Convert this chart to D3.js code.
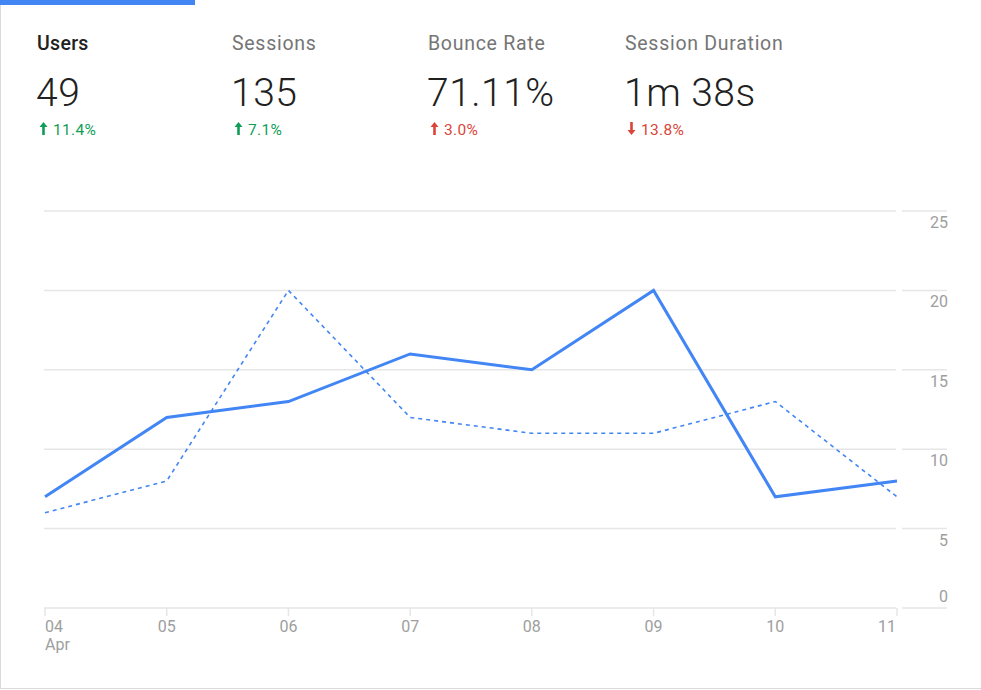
<!DOCTYPE html>
<html>
<head>
<meta charset="utf-8">
<script src="https://cdn.jsdelivr.net/npm/d3@7"></script>
<style>
  html, body { margin: 0; padding: 0; background: #fff; }
  svg { display: block; font-family: Roboto, "Noto Sans", sans-serif; }
</style>
</head>
<body>
<svg id="chart" width="981" height="690"></svg>
<script>
// ---- data ----
const days = ["04", "05", "06", "07", "08", "09", "10", "11"];
const monthLabel = "Apr";
const usersCurrent = [7, 12, 13, 16, 15, 20, 7, 8];
const usersPrevious = [6, 8, 20, 12, 11, 11, 13, 7];
const yTicks = [0, 5, 10, 15, 20, 25];

const metricNames = ["Users", "Sessions", "Bounce Rate", "Session Duration"];
const metricValues = ["49", "135", "71.11%", "1m 38s"];
const metricChanges = ["11.4%", "7.1%", "3.0%", "13.8%"];
const metricDirections = ["up", "up", "up", "down"];
const metricGood = [true, true, false, false];

// ---- layout ----
const svg = d3.select("#chart");
const W = 981, H = 690;
const plot = { left: 45, right: 897, top: 211, bottom: 608 };
const blue = "#4285f4";

// card borders
svg.append("line").attr("x1", 0.5).attr("x2", 0.5).attr("y1", 0).attr("y2", 689)
  .attr("stroke", "#dadada").attr("stroke-width", 1);
svg.append("line").attr("x1", 0).attr("x2", W).attr("y1", 688.5).attr("y2", 688.5)
  .attr("stroke", "#dadada").attr("stroke-width", 1);
svg.append("rect").attr("x", 0).attr("y", 0).attr("width", 195).attr("height", 5).attr("fill", blue);

// ---- header metrics ----
const metricX = [37, 232, 428, 625];
const header = svg.append("g");
metricNames.forEach((name, i) => {
  const g = header.append("g").attr("transform", `translate(${metricX[i]},0)`);
  g.append("text").attr("x", 0).attr("y", 50).text(name)
    .attr("font-size", 19.5).attr("letter-spacing", i === 0 ? 0.3 : 0.72)
    .attr("font-weight", i === 0 ? 500 : 400)
    .attr("fill", i === 0 ? "#212121" : "#757575");
  g.append("text").attr("x", -1).attr("y", 106).text(metricValues[i])
    .attr("font-size", 39).attr("font-weight", 300).attr("letter-spacing", 0.5)
    .attr("fill", "#212121");
  const col = metricGood[i] ? "#0f9d58" : "#db4437";
  const up = metricDirections[i] === "up";
  // arrow icon
  const ax = 6.5, top = 122, bot = 135;
  const arrow = up
    ? `M${ax},${top} L${ax + 4},${top + 5} L${ax + 1.3},${top + 5} L${ax + 1.3},${bot} L${ax - 1.3},${bot} L${ax - 1.3},${top + 5} L${ax - 4},${top + 5} Z`
    : `M${ax},${bot} L${ax + 4},${bot - 5} L${ax + 1.3},${bot - 5} L${ax + 1.3},${top} L${ax - 1.3},${top} L${ax - 1.3},${bot - 5} L${ax - 4},${bot - 5} Z`;
  g.append("path").attr("d", arrow).attr("fill", col);
  g.append("text").attr("x", 16).attr("y", 135).text(metricChanges[i])
    .attr("font-size", 15.5).attr("letter-spacing", 0.3).attr("fill", col);
});

// ---- scales ----
const x = d3.scalePoint().domain(days).range([plot.left, plot.right]);
const y = d3.scaleLinear().domain([0, 25]).range([plot.bottom, plot.top]);

// gridlines
const grid = svg.append("g");
grid.selectAll("line.main").data(yTicks).join("line")
  .attr("x1", 44).attr("x2", 896)
  .attr("y1", d => y(d)).attr("y2", d => y(d))
  .attr("stroke", "#e6e6e6").attr("stroke-width", 1.5);
grid.selectAll("line.side").data(yTicks).join("line")
  .attr("x1", 902).attr("x2", 947)
  .attr("y1", d => y(d)).attr("y2", d => y(d))
  .attr("stroke", "#e6e6e6").attr("stroke-width", 1.5);

// y labels (right side)
svg.append("g").selectAll("text").data(yTicks).join("text")
  .attr("x", 948)
  .attr("y", d => d === 0 ? y(d) - 6 : y(d) + 17)
  .attr("text-anchor", "end")
  .attr("font-size", 16).attr("fill", "#9e9e9e")
  .text(d => d);

// x axis ticks
const xa = svg.append("g");
xa.selectAll("line").data(days).join("line")
  .attr("x1", d => x(d)).attr("x2", d => x(d))
  .attr("y1", plot.bottom).attr("y2", plot.bottom + 8)
  .attr("stroke", "#e6e6e6").attr("stroke-width", 1.5);
xa.selectAll("text.day").data(days).join("text")
  .attr("class", "day")
  .attr("x", (d, i) => i === 0 ? x(d) : (i === days.length - 1 ? x(d) - 1 : x(d)))
  .attr("y", 632)
  .attr("text-anchor", (d, i) => i === 0 ? "start" : (i === days.length - 1 ? "end" : "middle"))
  .attr("font-size", 16).attr("fill", "#9e9e9e")
  .text(d => d);
xa.append("text").attr("x", x(days[0])).attr("y", 650)
  .attr("font-size", 16).attr("fill", "#9e9e9e").text(monthLabel);

// ---- lines ----
const line = d3.line().x((d, i) => x(days[i])).y(d => y(d));
svg.append("path").datum(usersPrevious)
  .attr("d", line).attr("fill", "none")
  .attr("stroke", blue).attr("stroke-width", 1.6)
  .attr("stroke-dasharray", "4,4");
svg.append("path").datum(usersCurrent)
  .attr("d", line).attr("fill", "none")
  .attr("stroke", blue).attr("stroke-width", 3)
  .attr("stroke-linejoin", "miter");
</script>
</body>
</html>
